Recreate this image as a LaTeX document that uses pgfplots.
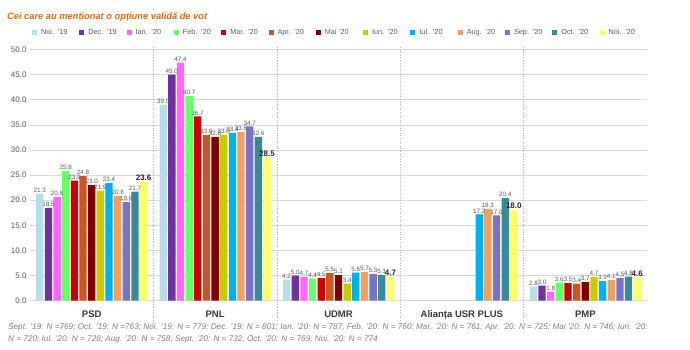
\documentclass[border=0pt]{standalone}
\usepackage{pgfplots}
\pgfplotsset{compat=1.18}
\usepackage{fontspec}
\setmainfont{Liberation Sans}
\definecolor{c1}{HTML}{B7DDE8}
\definecolor{c2}{HTML}{7030A0}
\definecolor{c3}{HTML}{FF66FF}
\definecolor{c4}{HTML}{66FF66}
\definecolor{c5}{HTML}{CC0000}
\definecolor{c6}{HTML}{CC5522}
\definecolor{c7}{HTML}{800000}
\definecolor{c8}{HTML}{C8CC00}
\definecolor{c9}{HTML}{00B0F0}
\definecolor{c10}{HTML}{F0A060}
\definecolor{c11}{HTML}{7474CC}
\definecolor{c12}{HTML}{3A8A96}
\definecolor{c13}{HTML}{FFFF66}
\definecolor{labgray}{HTML}{595959}
\definecolor{gridgray}{HTML}{D9D9D9}
\definecolor{footgray}{HTML}{7F7F7F}
\definecolor{suborange}{HTML}{E46C0A}
\begin{document}
\begin{tikzpicture}
\useasboundingbox (0,0) rectangle (690pt,350pt);
\node[anchor=west, font=\bfseries\itshape\fontsize{9.3}{11}\selectfont, text=suborange, inner sep=0pt] at (7pt,333pt) {Cei care au menționat o opțiune validă de vot};
\begin{axis}[
  at={(30pt,49.3pt)}, anchor=south west,
  scale only axis, width=617pt, height=251.2pt,
  ybar=1.35pt, bar width=7.3pt,
  xmin=-0.5, xmax=4.5, ymin=0, ymax=50,
  clip=false,
  axis x line*=bottom, axis y line*=left,
  x axis line style={draw=gridgray, line width=0.6pt},
  y axis line style={draw=none},
  xtick={0,1,2,3,4},
  xticklabels={PSD,PNL,UDMR,{Alianța USR PLUS},PMP},
  x tick label style={font=\bfseries\fontsize{9.5}{11}\selectfont, text=black!78, yshift=-6pt, text height=7pt, text depth=2pt},
  major tick length=0pt,
  ytick={0,5,...,50},
  y tick label style={font=\fontsize{8}{9}\selectfont, text=labgray},
  yticklabel style={/pgf/number format/fixed, /pgf/number format/fixed zerofill, /pgf/number format/precision=1, /pgf/number format/assume math mode=true},
  ymajorgrids, grid style={draw=gridgray, line width=0.6pt},
  nodes near coords,
  nodes near coords style={/pgf/number format/fixed, /pgf/number format/fixed zerofill, /pgf/number format/precision=1, /pgf/number format/assume math mode=true},
  every node near coord/.append style={font=\fontsize{6.3}{7}\selectfont, text=labgray, inner sep=1pt},
  legend columns=13,
  legend image code/.code={\fill[#1] (0pt,-2.5pt) rectangle (5pt,2.5pt);},
  legend style={at={(axis description cs:0.003,1.0657)}, anchor=west, draw=none, fill=none, inner sep=0pt,
    font=\fontsize{7.3}{8}\selectfont, text=labgray,
    nodes={text width=37.3pt, align=left, inner sep=1pt},
    /tikz/every odd column/.append style={column sep=3pt},
    /tikz/every even column/.append style={column sep=0pt}},
]
\addplot[fill=c1, draw=none] coordinates {(0,21.3) (1,39.0) (2,4.2) (4,2.8)};
\addplot[fill=c2, draw=none] coordinates {(0,18.5) (1,45.0) (2,5.0) (4,3.0)};
\addplot[fill=c3, draw=none] coordinates {(0,20.6) (1,47.4) (2,4.7) (4,1.8)};
\addplot[fill=c4, draw=none] coordinates {(0,25.8) (1,40.7) (2,4.4) (4,3.6)};
\addplot[fill=c5, draw=none] coordinates {(0,23.9) (1,36.7) (2,4.5) (4,3.5)};
\addplot[fill=c6, draw=none] coordinates {(0,24.8) (1,33.0) (2,5.5) (4,3.4)};
\addplot[fill=c7, draw=none] coordinates {(0,23.0) (1,32.6) (2,5.1) (4,3.7)};
\addplot[fill=c8, draw=none] coordinates {(0,21.9) (1,33.0) (2,3.4) (4,4.7)};
\addplot[fill=c9, draw=none] coordinates {(0,23.4) (1,33.4) (2,5.6) (3,17.2) (4,3.9)};
\addplot[fill=c10, draw=none] coordinates {(0,20.8) (1,33.6) (2,5.7) (3,18.3) (4,4.1)};
\addplot[fill=c11, draw=none] coordinates {(0,19.6) (1,34.7) (2,5.3) (3,17.0) (4,4.5)};
\addplot[fill=c12, draw=none] coordinates {(0,21.7) (1,32.6) (2,5.1) (3,20.4) (4,4.8)};
\addplot[fill=c13, draw=none, every node near coord/.append style={font=\bfseries\fontsize{8}{9}\selectfont, text=black!85}] coordinates {(0,23.6) (1,28.5) (2,4.7) (3,18.0) (4,4.6)};
\legend{Noi. '19,Dec. '19,Ian. '20,Feb. '20,Mar. '20,Apr. '20,Mai '20,Iun. '20,Iul. '20,Aug. '20,Sep. '20,Oct. '20,Noi. '20}
\draw[dotted, draw=gray!60, line width=0.6pt] (axis cs:0.5,50.5) -- (axis cs:0.5,-4.8);
\draw[dotted, draw=gray!60, line width=0.6pt] (axis cs:1.5,50.5) -- (axis cs:1.5,-4.8);
\draw[dotted, draw=gray!60, line width=0.6pt] (axis cs:2.5,50.5) -- (axis cs:2.5,-4.8);
\draw[dotted, draw=gray!60, line width=0.6pt] (axis cs:3.5,50.5) -- (axis cs:3.5,-4.8);
\end{axis}
\node[anchor=west, font=\itshape\fontsize{8.2}{9}\selectfont, text=footgray, inner sep=0pt] at (8pt,23pt) {Sept. '19: N =769; Oct. '19: N =763; Noi. '19: N = 779; Dec. '19: N = 801; Ian. '20: N = 787; Feb. '20: N = 760; Mar. '20: N = 761; Apr. '20: N = 725; Mai '20: N = 746; Iun. '20:};
\node[anchor=west, font=\itshape\fontsize{8.2}{9}\selectfont, text=footgray, inner sep=0pt] at (8pt,11pt) {N = 720; Iul. '20: N = 728; Aug. '20: N = 758; Sept. '20: N = 732; Oct. '20: N = 769; Noi. '20: N = 774};
\end{tikzpicture}
\end{document}
